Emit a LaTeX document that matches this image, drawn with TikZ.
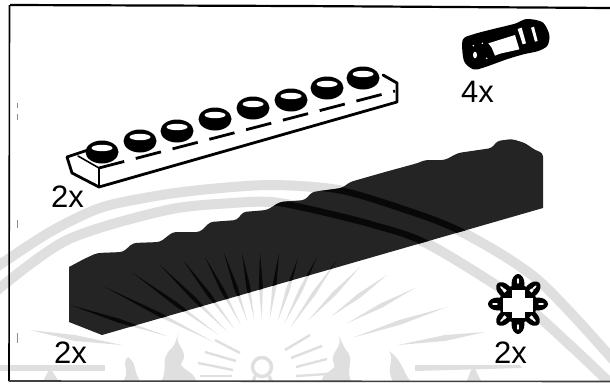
\documentclass[tikz,border=0pt]{standalone}
\usepackage{fontspec}
\setmainfont{Liberation Sans}
\usetikzlibrary{calc}
\definecolor{wm}{gray}{0.875}
\definecolor{blk}{gray}{0.14}
\definecolor{blkdark}{gray}{0.03}
\tikzset{
  countlabel/.style={anchor=base west,inner sep=0pt,text=black,font=\fontsize{31}{31}\selectfont},
  inkline/.style={draw=black,line width=2.8pt,line cap=round,line join=round},
  bandline/.style={line width=#1,line cap=butt},
}
\newcommand{\wmray}[4]{%
  \coordinate (O) at (#1);
  \coordinate (A) at ($(C)!#2pt!(O)$);
  \coordinate (M) at ($(A)!0.5!(O)$);
  \fill (A) -- ($(M)!#3pt!90:(O)$) -- (O) -- ($(M)!#3pt!-90:(O)$) -- cycle;
}
\newcommand{\wmrays}[1]{%
  \begin{scope}[fill=#1]
  \wmray{70,305}{100}{2}{}
  \wmray{105,287}{55}{2}{}
  \wmray{133,273}{55}{2}{}
  \wmray{160,265}{50}{2}{}
  \wmray{183,260}{48}{2}{}
  \wmray{205,257}{48}{2}{}
  \wmray{224,253}{48}{2}{}
  \wmray{242,253}{48}{2}{}
  \wmray{260,253}{48}{2}{}
  \wmray{279,253}{48}{2}{}
  \wmray{298,258}{48}{2}{}
  \wmray{317,257}{48}{2}{}
  \wmray{337,260}{48}{2}{}
  \wmray{360,267}{65}{2.2}{}
  \wmray{387,275}{85}{2.2}{}
  \wmray{415,288}{95}{2.2}{}
  \wmray{447,307}{95}{2.4}{}
  \end{scope}
}
\newcommand{\wmbands}[2]{%
  \draw[#1,bandline=#2] plot[smooth] coordinates {(-5,268) (50,232) (100,208) (150,197) (200,190) (270,185) (338,190) (400,208) (462,232) (538,280) (615,362)};
  \draw[#1,bandline=#2] plot[smooth] coordinates {(-5,292) (67,240) (167,210) (233,203) (270,202) (305,208) (370,224) (428,244) (518,300) (572,347) (612,385)};
}
\newcommand{\blockpath}{[rounded corners=3.5pt] (69,267) -- (84,259) -- (97,253) -- (123,252) -- (133,243) -- (160,242) -- (173,232) -- (200,232) -- (210,222) -- (237,220) -- (243,212) -- (267,210) -- (280,202) -- (305,200) -- (312,192) -- (342,188) -- (350,182) -- (385,172) -- (418,163) -- (425,160) -- (445,160) -- (458,153) -- (492,148) -- (497,141) -- (512,139) -- (525,143) -- (535,150) -- (543,153) [sharp corners] -- (543,208) -- (102,335) -- (69,322) -- cycle}
\begin{document}
\begin{tikzpicture}[x=1pt,y=-1pt]
\useasboundingbox (0,0) rectangle (610,383);
\fill[white] (0,0) rectangle (610,383);
\coordinate (C) at (263,367);
\begin{scope}
\clip (0,0) rectangle (610,381);
\wmbands{wm}{10pt}
\wmrays{wm}
\fill[wm] (398,345) -- (445,335) -- (485,332) -- (445,341) -- cycle;
\fill[wm] (122,345) -- (75,335) -- (30,330) -- (75,341) -- cycle;
\fill[wm] (415,365) -- (520,365) -- (522,368) -- (415,371) -- cycle;
\fill[wm] (0,365) -- (105,365) -- (105,371) -- (0,371) -- cycle;
\foreach \sx/\sy/\ex/\ey in {198/363/233/370,205/352/236/361,215/340/240/353,296/367/327/359,291/358/322/346,285/350/310/335,200/376/232/376,296/376/328/374}{
  \draw[wm,line width=2.4pt] (\sx,\sy) -- (\ex,\ey);
}
\fill[wm] (179,332) .. controls (172,345) and (190,350) .. (182,362) .. controls (176,368) and (198,372) .. (196,383) -- (160,383) .. controls (170,370) and (158,360) .. (172,348) .. controls (176,344) and (176,338) .. (179,332) -- cycle;
\fill[wm] (338,335) .. controls (345,348) and (328,352) .. (334,364) .. controls (338,370) and (320,372) .. (322,383) -- (352,383) .. controls (344,370) and (356,360) .. (346,350) .. controls (342,345) and (342,340) .. (338,335) -- cycle;
\fill[wm] (128,357) .. controls (120,365) and (132,370) .. (122,383) -- (142,383) .. controls (132,372) and (138,364) .. (128,357) -- cycle;
\fill[wm] (389,351) .. controls (396,360) and (384,368) .. (394,383) -- (412,383) .. controls (402,372) and (404,362) .. (389,351) -- cycle;
\fill[wm] (50,368) -- (42,383) -- (60,383) -- cycle;
\fill[wm] (473,365) -- (466,383) -- (482,383) -- cycle;
\draw[wm,line width=3.5pt] (262,367) circle[radius=9.5];
\draw[wm,line width=3.5pt] (255,376) -- (253,383) (269,376) -- (272,383);
\end{scope}
% frame
\draw[black,line width=2.2pt] (10,5) -- (300,6) -- (610,8);
\draw[black,line width=1.6pt] (9.5,5) -- (9,381);
\draw[black!75,line width=1.6pt] (9,381) -- (610,381.5);
\draw[black!45,line width=0.8pt] (17.5,103) -- (17.5,108) (17.5,114) -- (17.5,120) (17.5,220) -- (17.5,228) (17,333) -- (17,343);
% dark block
\fill[blk] \blockpath;
\begin{scope}
\clip \blockpath;
\begin{scope}
\clip (270,150) rectangle (543,300);
\wmbands{blkdark}{6.5pt}
\end{scope}
\wmrays{blkdark}
\end{scope}
% plate
\fill[white] (67,157) -- (365,73) -- (397,83) -- (397,102) -- (99,187) -- (72,173) -- cycle;
\draw[inkline] (67,157) -- (72,173) -- (99,187) -- (397,102) -- (397,83) -- (383,75);
\draw[inkline] (67,157) -- (88,150);
\draw[inkline,line width=1.6pt] (78,156) -- (99,168) -- (99,186);
\draw[inkline,line cap=butt,dash pattern=on 26pt off 12pt] (99,168) -- (395,91);
% studs
\foreach \cx/\cy in {102/152,140/141,177/131,215/119,253/108,291/100,327/88,363/78}{
  \fill[black] (\cx,\cy) ellipse[x radius=16.5,y radius=11.5];
  \fill[white] (\cx,\cy-4) ellipse[x radius=10.5,y radius=3.2];
}
% pin
\begin{scope}[shift={(450,15)},x=0.333333pt,y=-0.333333pt]
\fill[black] plot[smooth cycle] coordinates {(38,75) (70,58) (130,42) (195,26) (230,12) (278,22) (298,60) (292,92) (265,108) (220,118) (170,133) (100,158) (70,163) (42,138)};
\fill[white] (115,85) -- (195,60) -- (208,103) -- (150,116) -- (135,122) -- (125,98) -- cycle;
\fill[white] (203,42) -- (215,38) -- (228,85) -- (218,88) -- cycle;
\fill[white] (243,38) -- (252,35) -- (263,78) -- (255,80) -- cycle;
\fill[white] (75,120) ellipse[x radius=6,y radius=10];
\fill[white] (70,92) circle[radius=2.5] (97,85) circle[radius=2.5] (110,130) circle[radius=2.5];
\end{scope}
% gear
\begin{scope}[shift={(518,304)}]
\foreach \a/\r in {0/20,45/20,90/20,135/19,180/20,225/19,270/20,315/19}{
  \fill[black,rotate=\a] (\r,0) ellipse[x radius=10,y radius=6.5];
  \fill[white,rotate=\a] (\r+3,0) ellipse[x radius=3,y radius=1];
}
\fill[black] (0,0) circle[radius=19];
\fill[white] (-15,-6) rectangle (15,8);
\fill[white] (-6,-14) rectangle (7,14);
\foreach \a in {45,135,225,315}{
  \fill[white,rotate=\a] (17.5,-1.5) rectangle (20.5,1.5);
}
\end{scope}
% labels
\node[countlabel] (lblplate) at (51,207) {2x};
\node[countlabel] (lblblock) at (54,363) {2x};
\node[countlabel] (lblgear) at (494,363) {2x};
\node[countlabel] (lblpin) at (461,102) {4x};
\end{tikzpicture}
\end{document}
